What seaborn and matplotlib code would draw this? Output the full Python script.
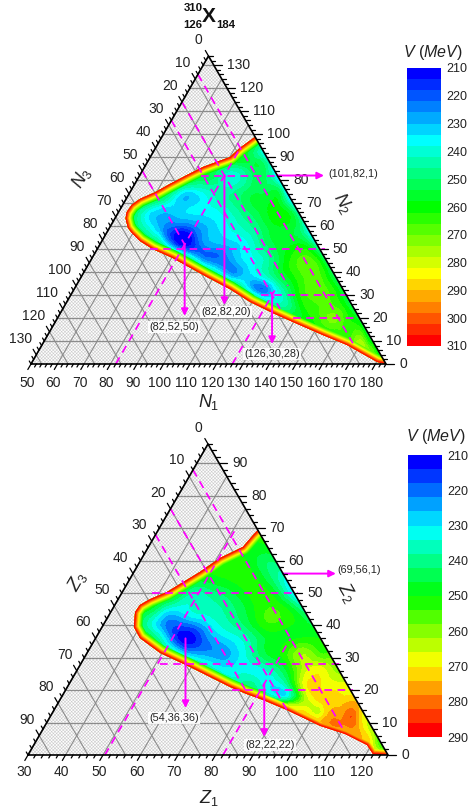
import numpy as np
import matplotlib
matplotlib.use("Agg")
import matplotlib.pyplot as plt
import matplotlib.tri as mtri
from matplotlib.colors import ListedColormap
from matplotlib.patches import Polygon
import seaborn as sns

sns.set_theme(style="white")
plt.rcParams["font.family"] = ["Liberation Sans", "DejaVu Sans"]
plt.rcParams["mathtext.fontset"] = "custom"
plt.rcParams["mathtext.it"] = "Liberation Sans:italic"
plt.rcParams["mathtext.rm"] = "Liberation Sans"
plt.rcParams["hatch.linewidth"] = 0.4

W, H = 468, 809
MAGENTA = "#ff00ff"
GRID = "#8c8c8c"
INK = "#222222"

##### neutron panel (N1+N2+N3 = 184) #####
n_rim_n2 = [0, 0.9, 8.3, 12.6, 18.3, 22.2, 27, 32.6, 37.9, 46.1, 50, 53.5, 57, 59.2, 63.4, 66.1, 69.2, 71.8, 74.7, 78.3, 82.2, 85.7, 90, 94, 98.8]
n_rim_n3 = [0, 2.9, 10.6, 17.5, 26, 31.6, 37.8, 42.6, 48.7, 57.4, 63, 66.1, 67.4, 67.8, 66.6, 64.8, 61.4, 57, 49.8, 42.4, 34, 26.2, 13.9, 8.1, 0]
n_rim_v = [262, 265, 265, 265, 265, 262, 260, 258, 258, 258, 258, 258, 258, 258, 258, 258, 258, 258, 258, 258, 258, 258, 258, 258, 258]
n_edge_n2 = [10, 20, 30, 40, 50, 60, 70, 80, 90]
n_edge_v = [256, 254, 252, 250, 244, 236, 232, 232, 236]
n_n2 = [90, 90,
        85, 85, 85,
        75, 75, 75, 75, 75, 75,
        68, 68, 68, 68, 68, 68, 68, 68, 68,
        60, 60, 60, 60, 60, 60, 60, 60, 60, 60,
        52, 52, 52, 52, 52, 52, 52, 52, 52,
        45, 45, 45, 45, 45, 45, 45, 45,
        38, 38, 38, 38, 38, 38, 38,
        31, 31, 31, 31, 31, 31,
        25, 25, 25, 25,
        18, 18, 18,
        10, 10, 10,
        5, 5]
n_n3 = [2, 6,
        18.3, 8.8, 1.3,
        40.2, 32.7, 23.3, 13.8, 6.3, 1.7,
        55, 47.5, 40, 32.4, 23, 15.4, 7.9, 3, 0.7,
        61, 55.2, 47.8, 42.1, 34.5, 27, 17.6, 10, 4.3, 1.3,
        57, 54.7, 51, 44.2, 34.7, 27.2, 17.7, 8.3, 2.6,
        47.7, 44, 34.5, 28.8, 21.3, 13.7, 8, 2.4,
        40.6, 36, 29.3, 22.9, 15.3, 9.7, 2.9,
        34, 28.3, 22.6, 17, 9.4, 2.6,
        25.7, 20, 12.5, 3,
        17.7, 10.2, 3.8,
        8.6, 4.8, 1.8,
        3.5, 1]
n_v = [244, 252,
       246, 251, 243,
       238, 237, 244, 252, 254, 246,
       240, 233, 234, 237, 245, 254, 260, 252, 242,
       240, 228, 221, 225, 233, 240, 250, 258, 254, 244,
       235, 224, 210, 222, 230, 236, 252, 258, 252,
       232, 224, 229, 236, 246, 262, 268, 260,
       234, 230, 235, 248, 262, 268, 260,
       232, 228, 245, 262, 268, 260,
       245, 258, 266, 260,
       262, 270, 262,
       266, 275, 262,
       270, 260]
n_hlines = [(82, 28.8, 0), (50, 64, -2), (30, 32.3, -2), (20, 25, 0)]
n_n3lines = [(8, 9), (20, 34), (28, 24), (50, 52)]
n_n1lines = [(82, 93), (126, 32)]
n_arrows = [(143, 82, 160.6, 82), (123, 82, 123, 25.7), (108, 52, 108, 20.9), (141, 31, 141, 8.7)]

##### proton panel (Z1+Z2+Z3 = 126) #####
z_rim_n2 = [0, 0.3, 3.1, 6.5, 9, 13.9, 17, 18.8, 21, 27.2, 31.5, 36.1, 39.5, 44.1, 46.3, 48.1, 50.3, 56.5, 60.8, 64.2, 67.9, 69.4]
z_rim_n3 = [0, 3.85, 4.05, 8.2, 13.6, 20, 24.8, 28.2, 31.6, 39.2, 45, 48.1, 48, 45.4, 43, 39.4, 33.8, 21.9, 14.4, 6.6, 2, 0]
z_rim_v = [262, 268, 272, 276, 272, 262, 250, 248, 248, 250, 250, 250, 250, 250, 250, 250, 250, 250, 250, 250, 250, 250]
z_edge_n2 = [5, 10, 15, 20, 25, 30, 35, 40, 45, 50, 55, 60, 65]
z_edge_v = [255, 265, 272, 268, 262, 258, 250, 245, 238, 228, 233, 243, 250]
z_n2 = [60, 60,
        55, 55, 55, 55,
        50, 50, 50, 50, 50, 50,
        45, 45, 45, 45, 45, 45, 45, 45,
        40, 40, 40, 40, 40, 40, 40, 40, 40,
        36, 36, 36, 36, 36, 36, 36, 36,
        31, 31, 31, 31, 31, 31, 31, 31,
        26, 26, 26, 26, 26, 26, 26, 26,
        21, 21, 21, 21, 21, 21, 21,
        17, 17, 17, 17, 17,
        12, 12, 12, 12, 12,
        8, 8, 8,
        4, 4]
z_n3 = [8, 3,
        17, 12, 8, 3,
        27.8, 23.8, 18.5, 11.8, 6.5, 2.5,
        38.8, 35.8, 30.3, 25, 19.6, 13, 7.6, 2.3,
        43.5, 39.5, 35.5, 31, 26, 19.5, 12.8, 6, 2,
        43.3, 40, 35.6, 30.8, 25.5, 18.8, 12.1, 5.5,
        40, 34.7, 28, 22.7, 17.3, 12, 6.7, 2.7,
        33, 27.7, 22.4, 17, 13, 9, 4.5, 1.6,
        26.3, 22.3, 18.3, 14.3, 11.6, 7.6, 2.8,
        19.7, 15.7, 11.7, 8.3, 4.3,
        13.5, 9.5, 5.5, 3.3, 1.5,
        6.7, 4, 2,
        2.5, 1]
z_v = [250, 243,
       250, 252, 250, 240,
       238, 238, 243, 251, 250, 238,
       240, 232, 234, 236, 240, 250, 254, 245,
       235, 222, 218, 222, 232, 240, 252, 250, 247,
       238, 222, 210, 220, 229, 238, 248, 250,
       235, 225, 224, 233, 245, 252, 262, 255,
       235, 232, 232, 238, 250, 265, 268, 262,
       240, 232, 230, 250, 268, 270, 268,
       240, 252, 268, 273, 272,
       268, 276, 279, 281, 272,
       277, 275, 268,
       268, 258]
z_hlines = [(50, 38, -1), (28, 46.8, -1), (20, 31.6, -0.7)]
z_n3lines = [(8, 8), (20, 14), (28, 19)]
z_n1lines = [(50.5, 70), (82, 36)]
z_arrows = [(98, 56, 112.1, 56), (72, 36, 72, 14.5), (93, 22, 93, 5.6)]

bar1_ticks = [210, 220, 230, 240, 250, 260, 270, 280, 290, 300, 310]
bar2_ticks = [210, 220, 230, 240, 250, 260, 270, 280, 290]


def rainbow(n):
    stops = np.array([[0, 0, 255], [0, 255, 255], [0, 255, 0], [255, 255, 0], [255, 0, 0]]) / 255
    out = []
    for t in np.linspace(0, 4, n):
        i = min(int(t), 3)
        out.append(tuple(stops[i] + (stops[i + 1] - stops[i]) * (t - i)))
    return out


def new_ax(left, top, right, bottom):
    return fig.add_axes([left / W, 1 - bottom / H, (right - left) / W, (bottom - top) / H])


def label(ax, x, y, s, dx, dy, **kw):
    # dx, dy are pixels on the picture
    ax.annotate(s, xy=(x, y), xytext=(dx * 0.72, -dy * 0.72), textcoords="offset points",
                annotation_clip=False, va="center", fontsize=10, color=INK, **kw)


def panel(ax, total, low, side, px, rim, edge, inside, hl, n3l, n1l, arrows, colors, vmin, vmax, rim_ref):
    to_x = lambda n2, n3: total - np.asarray(n2, dtype=float) / 2 - np.asarray(n3, dtype=float)
    ax.set_xlim(low, total)
    ax.set_ylim(0, side)
    ax.axis("off")

    apex = (low + side / 2, side)
    ax.add_patch(Polygon([(low, 0), (total, 0), apex], fc="white", ec="#cdcdcd", lw=0, hatch="xxxxxxxxxx", zorder=1))

    # grid every 10 units
    for v in np.arange(10, side, 10):
        ax.plot([to_x(v, side - v), to_x(v, 0)], [v, v], color=GRID, lw=0.9, zorder=2)
    first = int(np.ceil(low / 10) * 10)
    for v in np.arange(first, total, 10):
        h = total - v
        ax.plot([v, v + h / 2], [0, h], color=GRID, lw=0.8, zorder=2)
    for v in np.arange(10, side, 10):
        ax.plot([to_x(0, v), to_x(side - v, v)], [0, side - v], color=GRID, lw=0.8, zorder=2)

    # contour fill, everything outside the rim is clipped away
    rim_x = to_x(rim[0], rim[1])
    rim_y = np.asarray(rim[0], dtype=float)
    n2 = np.r_[rim[0], edge[0], inside[0]]
    n3 = np.r_[rim[1], np.zeros(len(edge[0])), inside[1]]
    v = np.r_[rim[2], edge[1], inside[2]]
    tri = mtri.Triangulation(to_x(n2, n3), n2)
    fine, fine_v = mtri.UniformTriRefiner(tri).refine_field(v, subdiv=2)
    levels = np.r_[np.arange(vmin, vmax, 4), vmax + 0.01]
    outline = Polygon(np.c_[rim_x, rim_y], transform=ax.transData, fc="none", ec="none")
    ax.add_patch(outline)
    cs = ax.tricontourf(fine, np.clip(fine_v, vmin, vmax), levels=levels, colors=colors, zorder=3)
    cs.set_clip_path(outline)

    # steep red rim along the boundary, one stroke per colour band
    rim_v = np.asarray(rim[2], dtype=float)
    for k, c in enumerate(colors):
        lo = vmin + 4 * k
        if lo < rim_ref:
            continue
        width_px = 2 * 8 * (vmax - lo) / (vmax - rim_ref)
        ln, = ax.plot(rim_x, np.ma.masked_where(rim_v > lo + 2, rim_y), color=c,
                      lw=width_px * 0.72, solid_joinstyle="round", solid_capstyle="butt", zorder=4)
        ln.set_clip_path(outline)

    # dashed guide lines
    dash = dict(color=MAGENTA, lw=1.25, linestyle=(0, (4.4, 3.2)), sort=False, estimator=None, ax=ax,
                legend=False, zorder=5, clip_on=False)
    for h, a, b in hl:
        sns.lineplot(x=[float(to_x(h, a)), float(to_x(h, b))], y=[h, h], **dash)
    for c, end in n3l:
        sns.lineplot(x=[float(to_x(side - c, c)), float(to_x(end, c))], y=[side - c, end], **dash)
    for c, end in n1l:
        sns.lineplot(x=[c, c + end / 2], y=[0, end], **dash)
    for x0, y0, x1, y1 in arrows:
        ax.annotate("", xy=(x1, y1), xytext=(x0, y0), zorder=6, annotation_clip=False,
                    arrowprops=dict(arrowstyle="-|>", color=MAGENTA, lw=1.4, mutation_scale=10,
                                    shrinkA=0, shrinkB=0))

    # frame and ticks
    ax.plot([low, total, apex[0], low], [0, 0, side, 0], color="black", lw=1.2, zorder=7, clip_on=False)
    sy = (px * 0.866)
    for t in np.arange(0, side + 0.1, 2):
        major = t % 10 == 0
        # right edge
        ln = (8 if major else 4) / px
        ax.plot([to_x(t, 0), to_x(t, 0) + ln], [t, t], color="black", lw=0.9, clip_on=False, zorder=7)
        # left edge and bottom edge, slanted
        ln = (5.5 if major else 3) / sy
        ax.plot([to_x(side - t, t), to_x(side - t, t) - ln / 2], [side - t, side - t + ln], color="black", lw=0.9, clip_on=False, zorder=7)
        xb = low + t
        ax.plot([xb, xb - ln / 2], [0, -ln], color="black", lw=0.9, clip_on=False, zorder=7)
        if major:
            if t > 0:
                label(ax, to_x(side - t, t), side - t, "%d" % t, -4.5, -16, ha="right")
            label(ax, to_x(t, 0), t, "%d" % t, 13, 0, ha="left")
    label(ax, apex[0], side, "0", -10, -16, ha="center")
    for t in np.arange(first, total, 10):
        label(ax, t, 0, "%d" % t, -4, 19 if side > 100 else 17, ha="center")


def colorbar(ax, ticks, colors, vmin):
    rows = np.arange(len(colors)).reshape(-1, 1)
    sns.heatmap(rows, cmap=ListedColormap(colors), cbar=False, ax=ax, xticklabels=False)
    ax.set_yticks([(t - vmin) / 4 for t in ticks])
    ax.set_yticklabels([str(t) for t in ticks], rotation=0, fontsize=9, color=INK)
    ax.yaxis.tick_right()
    ax.tick_params(axis="y", length=0, pad=4)


fig = plt.figure(figsize=(W / 100, H / 100), dpi=100)

ax1 = new_ax(31, 56, 386, 364)
panel(ax1, 184, 50, 134, 2.649,
      (n_rim_n2, n_rim_n3, n_rim_v), (n_edge_n2, n_edge_v), (n_n2, n_n3, n_v),
      n_hlines, n_n3lines, n_n1lines, n_arrows, rainbow(25), 210, 310, 258)

ax2 = new_ax(28, 444, 388, 755)
panel(ax2, 126, 30, 96, 3.75,
      (z_rim_n2, z_rim_n3, z_rim_v), (z_edge_n2, z_edge_v), (z_n2, z_n3, z_v),
      z_hlines, z_n3lines, z_n1lines, z_arrows, rainbow(20), 210, 290, 250)

cax1 = new_ax(407, 68, 441, 346)
colorbar(cax1, bar1_ticks, rainbow(25), 210)
cax2 = new_ax(408, 455, 442, 737)
colorbar(cax2, bar2_ticks, rainbow(20), 210)


def txt(x, y, s, **kw):
    fig.text(x / W, 1 - y / H, s, ha=kw.pop("ha", "center"), va="center", **kw)


lab = dict(fontsize=7.8, color=INK, zorder=9)
box = dict(fc="white", ec="none", pad=1.0, alpha=0.92)
txt(353, 174, "(101,82,1)", **lab)
txt(226, 312, "(82,82,20)", bbox=box, **lab)
txt(174, 327, "(82,52,50)", bbox=box, **lab)
txt(272, 354, "(126,30,28)", bbox=box, **lab)
txt(359, 570, "(69,56,1)", **lab)
txt(174, 718, "(54,36,36)", bbox=box, **lab)
txt(270, 745, "(82,22,22)", bbox=box, **lab)

txt(193, 8, "310", fontsize=8.2, fontweight="bold", color="#111111")
txt(193, 25, "126", fontsize=8.2, fontweight="bold", color="#111111")
txt(226, 25, "184", fontsize=8.2, fontweight="bold", color="#111111")
txt(209, 16, "X", fontsize=15, fontweight="bold", color="#111111")

txt(433, 52, r"$\mathit{V}$ ($\mathit{MeV}$)", fontsize=11.5, color=INK)
txt(436, 437, r"$\mathit{V}$ ($\mathit{MeV}$)", fontsize=11.5, color=INK)

ax_lab = dict(fontsize=13, color=INK)
txt(209, 402, r"$\mathit{N}_{\mathit{1}}$", **ax_lab)
txt(82, 178, r"$\mathit{N}_{\mathit{3}}$", rotation=60, **ax_lab)
txt(343, 203, r"$\mathit{N}_{\mathit{2}}$", rotation=-60, **ax_lab)
txt(209, 798, r"$\mathit{Z}_{\mathit{1}}$", **ax_lab)
txt(77, 581, r"$\mathit{Z}_{\mathit{3}}$", rotation=60, **ax_lab)
txt(347, 593, r"$\mathit{Z}_{\mathit{2}}$", rotation=-60, **ax_lab)

fig.savefig("out.png", dpi=100)
